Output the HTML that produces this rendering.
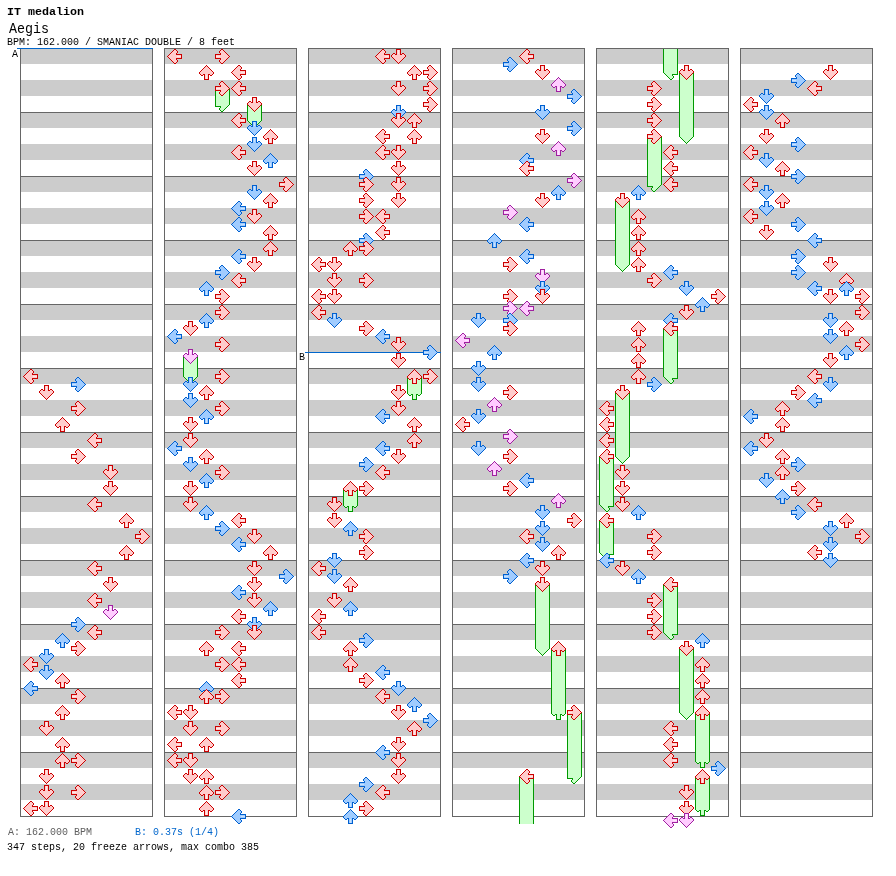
<!DOCTYPE html>
<html><head><meta charset="utf-8"><title>Aegis</title>
<style>
html,body{margin:0;padding:0;background:#fff;}
body{width:896px;height:876px;position:relative;overflow:hidden;font-family:"Liberation Mono",monospace;color:#000;}
.t{position:absolute;white-space:pre;line-height:1;transform-origin:0 0;will-change:transform;}
</style></head><body>
<svg width="896" height="876" viewBox="0 0 896 876" shape-rendering="crispEdges" style="position:absolute;left:0;top:0">
<defs>
<g id="Lr"><polygon points="1.5,8.5 8.5,1.5 9.5,1.5 11.5,3.5 11.5,4.5 10.5,5.5 10.5,6.5 15.5,6.5 15.5,10.5 10.5,10.5 10.5,11.5 11.5,12.5 11.5,13.5 9.5,15.5 8.5,15.5" fill="#ffcccc" stroke="#cc0000" stroke-width="1"/><line x1="11" y1="8.5" x2="15" y2="8.5" stroke="#ffe6e6" stroke-width="1"/></g>
<g id="Lb"><polygon points="1.5,8.5 8.5,1.5 9.5,1.5 11.5,3.5 11.5,4.5 10.5,5.5 10.5,6.5 15.5,6.5 15.5,10.5 10.5,10.5 10.5,11.5 11.5,12.5 11.5,13.5 9.5,15.5 8.5,15.5" fill="#a0ccff" stroke="#0060d0" stroke-width="1"/><line x1="11" y1="8.5" x2="15" y2="8.5" stroke="#c8e2ff" stroke-width="1"/></g>
<g id="Lp"><polygon points="1.5,8.5 8.5,1.5 9.5,1.5 11.5,3.5 11.5,4.5 10.5,5.5 10.5,6.5 15.5,6.5 15.5,10.5 10.5,10.5 10.5,11.5 11.5,12.5 11.5,13.5 9.5,15.5 8.5,15.5" fill="#ffccff" stroke="#a020a0" stroke-width="1"/><line x1="11" y1="8.5" x2="15" y2="8.5" stroke="#ffe6ff" stroke-width="1"/></g>
<g id="Dr"><polygon points="8.5,15.5 1.5,8.5 1.5,7.5 3.5,5.5 4.5,5.5 5.5,6.5 6.5,6.5 6.5,1.5 10.5,1.5 10.5,6.5 11.5,6.5 12.5,5.5 13.5,5.5 15.5,7.5 15.5,8.5" fill="#ffcccc" stroke="#cc0000" stroke-width="1"/><line x1="8.5" y1="6" x2="8.5" y2="2" stroke="#ffe6e6" stroke-width="1"/></g>
<g id="Db"><polygon points="8.5,15.5 1.5,8.5 1.5,7.5 3.5,5.5 4.5,5.5 5.5,6.5 6.5,6.5 6.5,1.5 10.5,1.5 10.5,6.5 11.5,6.5 12.5,5.5 13.5,5.5 15.5,7.5 15.5,8.5" fill="#a0ccff" stroke="#0060d0" stroke-width="1"/><line x1="8.5" y1="6" x2="8.5" y2="2" stroke="#c8e2ff" stroke-width="1"/></g>
<g id="Dp"><polygon points="8.5,15.5 1.5,8.5 1.5,7.5 3.5,5.5 4.5,5.5 5.5,6.5 6.5,6.5 6.5,1.5 10.5,1.5 10.5,6.5 11.5,6.5 12.5,5.5 13.5,5.5 15.5,7.5 15.5,8.5" fill="#ffccff" stroke="#a020a0" stroke-width="1"/><line x1="8.5" y1="6" x2="8.5" y2="2" stroke="#ffe6ff" stroke-width="1"/></g>
<g id="Ur"><polygon points="8.5,1.5 15.5,8.5 15.5,9.5 13.5,11.5 12.5,11.5 11.5,10.5 10.5,10.5 10.5,15.5 6.5,15.5 6.5,10.5 5.5,10.5 4.5,11.5 3.5,11.5 1.5,9.5 1.5,8.5" fill="#ffcccc" stroke="#cc0000" stroke-width="1"/><line x1="8.5" y1="11" x2="8.5" y2="15" stroke="#ffe6e6" stroke-width="1"/></g>
<g id="Ub"><polygon points="8.5,1.5 15.5,8.5 15.5,9.5 13.5,11.5 12.5,11.5 11.5,10.5 10.5,10.5 10.5,15.5 6.5,15.5 6.5,10.5 5.5,10.5 4.5,11.5 3.5,11.5 1.5,9.5 1.5,8.5" fill="#a0ccff" stroke="#0060d0" stroke-width="1"/><line x1="8.5" y1="11" x2="8.5" y2="15" stroke="#c8e2ff" stroke-width="1"/></g>
<g id="Up"><polygon points="8.5,1.5 15.5,8.5 15.5,9.5 13.5,11.5 12.5,11.5 11.5,10.5 10.5,10.5 10.5,15.5 6.5,15.5 6.5,10.5 5.5,10.5 4.5,11.5 3.5,11.5 1.5,9.5 1.5,8.5" fill="#ffccff" stroke="#a020a0" stroke-width="1"/><line x1="8.5" y1="11" x2="8.5" y2="15" stroke="#ffe6ff" stroke-width="1"/></g>
<g id="Rr"><polygon points="15.5,8.5 8.5,1.5 7.5,1.5 5.5,3.5 5.5,4.5 6.5,5.5 6.5,6.5 1.5,6.5 1.5,10.5 6.5,10.5 6.5,11.5 5.5,12.5 5.5,13.5 7.5,15.5 8.5,15.5" fill="#ffcccc" stroke="#cc0000" stroke-width="1"/><line x1="6" y1="8.5" x2="2" y2="8.5" stroke="#ffe6e6" stroke-width="1"/></g>
<g id="Rb"><polygon points="15.5,8.5 8.5,1.5 7.5,1.5 5.5,3.5 5.5,4.5 6.5,5.5 6.5,6.5 1.5,6.5 1.5,10.5 6.5,10.5 6.5,11.5 5.5,12.5 5.5,13.5 7.5,15.5 8.5,15.5" fill="#a0ccff" stroke="#0060d0" stroke-width="1"/><line x1="6" y1="8.5" x2="2" y2="8.5" stroke="#c8e2ff" stroke-width="1"/></g>
<g id="Rp"><polygon points="15.5,8.5 8.5,1.5 7.5,1.5 5.5,3.5 5.5,4.5 6.5,5.5 6.5,6.5 1.5,6.5 1.5,10.5 6.5,10.5 6.5,11.5 5.5,12.5 5.5,13.5 7.5,15.5 8.5,15.5" fill="#ffccff" stroke="#a020a0" stroke-width="1"/><line x1="6" y1="8.5" x2="2" y2="8.5" stroke="#ffe6ff" stroke-width="1"/></g>
</defs>
<rect x="20" y="48" width="132" height="768" fill="#fff"/>
<rect x="21" y="48" width="131" height="16" fill="#cccccc"/>
<rect x="21" y="80" width="131" height="16" fill="#cccccc"/>
<rect x="21" y="112" width="131" height="16" fill="#cccccc"/>
<rect x="21" y="144" width="131" height="16" fill="#cccccc"/>
<rect x="21" y="176" width="131" height="16" fill="#cccccc"/>
<rect x="21" y="208" width="131" height="16" fill="#cccccc"/>
<rect x="21" y="240" width="131" height="16" fill="#cccccc"/>
<rect x="21" y="272" width="131" height="16" fill="#cccccc"/>
<rect x="21" y="304" width="131" height="16" fill="#cccccc"/>
<rect x="21" y="336" width="131" height="16" fill="#cccccc"/>
<rect x="21" y="368" width="131" height="16" fill="#cccccc"/>
<rect x="21" y="400" width="131" height="16" fill="#cccccc"/>
<rect x="21" y="432" width="131" height="16" fill="#cccccc"/>
<rect x="21" y="464" width="131" height="16" fill="#cccccc"/>
<rect x="21" y="496" width="131" height="16" fill="#cccccc"/>
<rect x="21" y="528" width="131" height="16" fill="#cccccc"/>
<rect x="21" y="560" width="131" height="16" fill="#cccccc"/>
<rect x="21" y="592" width="131" height="16" fill="#cccccc"/>
<rect x="21" y="624" width="131" height="16" fill="#cccccc"/>
<rect x="21" y="656" width="131" height="16" fill="#cccccc"/>
<rect x="21" y="688" width="131" height="16" fill="#cccccc"/>
<rect x="21" y="720" width="131" height="16" fill="#cccccc"/>
<rect x="21" y="752" width="131" height="16" fill="#cccccc"/>
<rect x="21" y="784" width="131" height="16" fill="#cccccc"/>
<rect x="20" y="112" width="133" height="1" fill="#666666"/>
<rect x="20" y="176" width="133" height="1" fill="#666666"/>
<rect x="20" y="240" width="133" height="1" fill="#666666"/>
<rect x="20" y="304" width="133" height="1" fill="#666666"/>
<rect x="20" y="368" width="133" height="1" fill="#666666"/>
<rect x="20" y="432" width="133" height="1" fill="#666666"/>
<rect x="20" y="496" width="133" height="1" fill="#666666"/>
<rect x="20" y="560" width="133" height="1" fill="#666666"/>
<rect x="20" y="624" width="133" height="1" fill="#666666"/>
<rect x="20" y="688" width="133" height="1" fill="#666666"/>
<rect x="20" y="752" width="133" height="1" fill="#666666"/>
<rect x="20" y="48" width="133" height="1" fill="#666666"/>
<rect x="20" y="816" width="133" height="1" fill="#666666"/>
<rect x="20" y="48" width="1" height="769" fill="#666666"/>
<rect x="152" y="48" width="1" height="769" fill="#666666"/>
<rect x="164" y="48" width="132" height="768" fill="#fff"/>
<rect x="165" y="48" width="131" height="16" fill="#cccccc"/>
<rect x="165" y="80" width="131" height="16" fill="#cccccc"/>
<rect x="165" y="112" width="131" height="16" fill="#cccccc"/>
<rect x="165" y="144" width="131" height="16" fill="#cccccc"/>
<rect x="165" y="176" width="131" height="16" fill="#cccccc"/>
<rect x="165" y="208" width="131" height="16" fill="#cccccc"/>
<rect x="165" y="240" width="131" height="16" fill="#cccccc"/>
<rect x="165" y="272" width="131" height="16" fill="#cccccc"/>
<rect x="165" y="304" width="131" height="16" fill="#cccccc"/>
<rect x="165" y="336" width="131" height="16" fill="#cccccc"/>
<rect x="165" y="368" width="131" height="16" fill="#cccccc"/>
<rect x="165" y="400" width="131" height="16" fill="#cccccc"/>
<rect x="165" y="432" width="131" height="16" fill="#cccccc"/>
<rect x="165" y="464" width="131" height="16" fill="#cccccc"/>
<rect x="165" y="496" width="131" height="16" fill="#cccccc"/>
<rect x="165" y="528" width="131" height="16" fill="#cccccc"/>
<rect x="165" y="560" width="131" height="16" fill="#cccccc"/>
<rect x="165" y="592" width="131" height="16" fill="#cccccc"/>
<rect x="165" y="624" width="131" height="16" fill="#cccccc"/>
<rect x="165" y="656" width="131" height="16" fill="#cccccc"/>
<rect x="165" y="688" width="131" height="16" fill="#cccccc"/>
<rect x="165" y="720" width="131" height="16" fill="#cccccc"/>
<rect x="165" y="752" width="131" height="16" fill="#cccccc"/>
<rect x="165" y="784" width="131" height="16" fill="#cccccc"/>
<rect x="164" y="112" width="133" height="1" fill="#666666"/>
<rect x="164" y="176" width="133" height="1" fill="#666666"/>
<rect x="164" y="240" width="133" height="1" fill="#666666"/>
<rect x="164" y="304" width="133" height="1" fill="#666666"/>
<rect x="164" y="368" width="133" height="1" fill="#666666"/>
<rect x="164" y="432" width="133" height="1" fill="#666666"/>
<rect x="164" y="496" width="133" height="1" fill="#666666"/>
<rect x="164" y="560" width="133" height="1" fill="#666666"/>
<rect x="164" y="624" width="133" height="1" fill="#666666"/>
<rect x="164" y="688" width="133" height="1" fill="#666666"/>
<rect x="164" y="752" width="133" height="1" fill="#666666"/>
<rect x="164" y="48" width="133" height="1" fill="#666666"/>
<rect x="164" y="816" width="133" height="1" fill="#666666"/>
<rect x="164" y="48" width="1" height="769" fill="#666666"/>
<rect x="296" y="48" width="1" height="769" fill="#666666"/>
<rect x="308" y="48" width="132" height="768" fill="#fff"/>
<rect x="309" y="48" width="131" height="16" fill="#cccccc"/>
<rect x="309" y="80" width="131" height="16" fill="#cccccc"/>
<rect x="309" y="112" width="131" height="16" fill="#cccccc"/>
<rect x="309" y="144" width="131" height="16" fill="#cccccc"/>
<rect x="309" y="176" width="131" height="16" fill="#cccccc"/>
<rect x="309" y="208" width="131" height="16" fill="#cccccc"/>
<rect x="309" y="240" width="131" height="16" fill="#cccccc"/>
<rect x="309" y="272" width="131" height="16" fill="#cccccc"/>
<rect x="309" y="304" width="131" height="16" fill="#cccccc"/>
<rect x="309" y="336" width="131" height="16" fill="#cccccc"/>
<rect x="309" y="368" width="131" height="16" fill="#cccccc"/>
<rect x="309" y="400" width="131" height="16" fill="#cccccc"/>
<rect x="309" y="432" width="131" height="16" fill="#cccccc"/>
<rect x="309" y="464" width="131" height="16" fill="#cccccc"/>
<rect x="309" y="496" width="131" height="16" fill="#cccccc"/>
<rect x="309" y="528" width="131" height="16" fill="#cccccc"/>
<rect x="309" y="560" width="131" height="16" fill="#cccccc"/>
<rect x="309" y="592" width="131" height="16" fill="#cccccc"/>
<rect x="309" y="624" width="131" height="16" fill="#cccccc"/>
<rect x="309" y="656" width="131" height="16" fill="#cccccc"/>
<rect x="309" y="688" width="131" height="16" fill="#cccccc"/>
<rect x="309" y="720" width="131" height="16" fill="#cccccc"/>
<rect x="309" y="752" width="131" height="16" fill="#cccccc"/>
<rect x="309" y="784" width="131" height="16" fill="#cccccc"/>
<rect x="308" y="112" width="133" height="1" fill="#666666"/>
<rect x="308" y="176" width="133" height="1" fill="#666666"/>
<rect x="308" y="240" width="133" height="1" fill="#666666"/>
<rect x="308" y="304" width="133" height="1" fill="#666666"/>
<rect x="308" y="368" width="133" height="1" fill="#666666"/>
<rect x="308" y="432" width="133" height="1" fill="#666666"/>
<rect x="308" y="496" width="133" height="1" fill="#666666"/>
<rect x="308" y="560" width="133" height="1" fill="#666666"/>
<rect x="308" y="624" width="133" height="1" fill="#666666"/>
<rect x="308" y="688" width="133" height="1" fill="#666666"/>
<rect x="308" y="752" width="133" height="1" fill="#666666"/>
<rect x="308" y="48" width="133" height="1" fill="#666666"/>
<rect x="308" y="816" width="133" height="1" fill="#666666"/>
<rect x="308" y="48" width="1" height="769" fill="#666666"/>
<rect x="440" y="48" width="1" height="769" fill="#666666"/>
<rect x="452" y="48" width="132" height="768" fill="#fff"/>
<rect x="453" y="48" width="131" height="16" fill="#cccccc"/>
<rect x="453" y="80" width="131" height="16" fill="#cccccc"/>
<rect x="453" y="112" width="131" height="16" fill="#cccccc"/>
<rect x="453" y="144" width="131" height="16" fill="#cccccc"/>
<rect x="453" y="176" width="131" height="16" fill="#cccccc"/>
<rect x="453" y="208" width="131" height="16" fill="#cccccc"/>
<rect x="453" y="240" width="131" height="16" fill="#cccccc"/>
<rect x="453" y="272" width="131" height="16" fill="#cccccc"/>
<rect x="453" y="304" width="131" height="16" fill="#cccccc"/>
<rect x="453" y="336" width="131" height="16" fill="#cccccc"/>
<rect x="453" y="368" width="131" height="16" fill="#cccccc"/>
<rect x="453" y="400" width="131" height="16" fill="#cccccc"/>
<rect x="453" y="432" width="131" height="16" fill="#cccccc"/>
<rect x="453" y="464" width="131" height="16" fill="#cccccc"/>
<rect x="453" y="496" width="131" height="16" fill="#cccccc"/>
<rect x="453" y="528" width="131" height="16" fill="#cccccc"/>
<rect x="453" y="560" width="131" height="16" fill="#cccccc"/>
<rect x="453" y="592" width="131" height="16" fill="#cccccc"/>
<rect x="453" y="624" width="131" height="16" fill="#cccccc"/>
<rect x="453" y="656" width="131" height="16" fill="#cccccc"/>
<rect x="453" y="688" width="131" height="16" fill="#cccccc"/>
<rect x="453" y="720" width="131" height="16" fill="#cccccc"/>
<rect x="453" y="752" width="131" height="16" fill="#cccccc"/>
<rect x="453" y="784" width="131" height="16" fill="#cccccc"/>
<rect x="452" y="112" width="133" height="1" fill="#666666"/>
<rect x="452" y="176" width="133" height="1" fill="#666666"/>
<rect x="452" y="240" width="133" height="1" fill="#666666"/>
<rect x="452" y="304" width="133" height="1" fill="#666666"/>
<rect x="452" y="368" width="133" height="1" fill="#666666"/>
<rect x="452" y="432" width="133" height="1" fill="#666666"/>
<rect x="452" y="496" width="133" height="1" fill="#666666"/>
<rect x="452" y="560" width="133" height="1" fill="#666666"/>
<rect x="452" y="624" width="133" height="1" fill="#666666"/>
<rect x="452" y="688" width="133" height="1" fill="#666666"/>
<rect x="452" y="752" width="133" height="1" fill="#666666"/>
<rect x="452" y="48" width="133" height="1" fill="#666666"/>
<rect x="452" y="816" width="133" height="1" fill="#666666"/>
<rect x="452" y="48" width="1" height="769" fill="#666666"/>
<rect x="584" y="48" width="1" height="769" fill="#666666"/>
<rect x="596" y="48" width="132" height="768" fill="#fff"/>
<rect x="597" y="48" width="131" height="16" fill="#cccccc"/>
<rect x="597" y="80" width="131" height="16" fill="#cccccc"/>
<rect x="597" y="112" width="131" height="16" fill="#cccccc"/>
<rect x="597" y="144" width="131" height="16" fill="#cccccc"/>
<rect x="597" y="176" width="131" height="16" fill="#cccccc"/>
<rect x="597" y="208" width="131" height="16" fill="#cccccc"/>
<rect x="597" y="240" width="131" height="16" fill="#cccccc"/>
<rect x="597" y="272" width="131" height="16" fill="#cccccc"/>
<rect x="597" y="304" width="131" height="16" fill="#cccccc"/>
<rect x="597" y="336" width="131" height="16" fill="#cccccc"/>
<rect x="597" y="368" width="131" height="16" fill="#cccccc"/>
<rect x="597" y="400" width="131" height="16" fill="#cccccc"/>
<rect x="597" y="432" width="131" height="16" fill="#cccccc"/>
<rect x="597" y="464" width="131" height="16" fill="#cccccc"/>
<rect x="597" y="496" width="131" height="16" fill="#cccccc"/>
<rect x="597" y="528" width="131" height="16" fill="#cccccc"/>
<rect x="597" y="560" width="131" height="16" fill="#cccccc"/>
<rect x="597" y="592" width="131" height="16" fill="#cccccc"/>
<rect x="597" y="624" width="131" height="16" fill="#cccccc"/>
<rect x="597" y="656" width="131" height="16" fill="#cccccc"/>
<rect x="597" y="688" width="131" height="16" fill="#cccccc"/>
<rect x="597" y="720" width="131" height="16" fill="#cccccc"/>
<rect x="597" y="752" width="131" height="16" fill="#cccccc"/>
<rect x="597" y="784" width="131" height="16" fill="#cccccc"/>
<rect x="596" y="112" width="133" height="1" fill="#666666"/>
<rect x="596" y="176" width="133" height="1" fill="#666666"/>
<rect x="596" y="240" width="133" height="1" fill="#666666"/>
<rect x="596" y="304" width="133" height="1" fill="#666666"/>
<rect x="596" y="368" width="133" height="1" fill="#666666"/>
<rect x="596" y="432" width="133" height="1" fill="#666666"/>
<rect x="596" y="496" width="133" height="1" fill="#666666"/>
<rect x="596" y="560" width="133" height="1" fill="#666666"/>
<rect x="596" y="624" width="133" height="1" fill="#666666"/>
<rect x="596" y="688" width="133" height="1" fill="#666666"/>
<rect x="596" y="752" width="133" height="1" fill="#666666"/>
<rect x="596" y="48" width="133" height="1" fill="#666666"/>
<rect x="596" y="816" width="133" height="1" fill="#666666"/>
<rect x="596" y="48" width="1" height="769" fill="#666666"/>
<rect x="728" y="48" width="1" height="769" fill="#666666"/>
<rect x="740" y="48" width="132" height="768" fill="#fff"/>
<rect x="741" y="48" width="131" height="16" fill="#cccccc"/>
<rect x="741" y="80" width="131" height="16" fill="#cccccc"/>
<rect x="741" y="112" width="131" height="16" fill="#cccccc"/>
<rect x="741" y="144" width="131" height="16" fill="#cccccc"/>
<rect x="741" y="176" width="131" height="16" fill="#cccccc"/>
<rect x="741" y="208" width="131" height="16" fill="#cccccc"/>
<rect x="741" y="240" width="131" height="16" fill="#cccccc"/>
<rect x="741" y="272" width="131" height="16" fill="#cccccc"/>
<rect x="741" y="304" width="131" height="16" fill="#cccccc"/>
<rect x="741" y="336" width="131" height="16" fill="#cccccc"/>
<rect x="741" y="368" width="131" height="16" fill="#cccccc"/>
<rect x="741" y="400" width="131" height="16" fill="#cccccc"/>
<rect x="741" y="432" width="131" height="16" fill="#cccccc"/>
<rect x="741" y="464" width="131" height="16" fill="#cccccc"/>
<rect x="741" y="496" width="131" height="16" fill="#cccccc"/>
<rect x="741" y="528" width="131" height="16" fill="#cccccc"/>
<rect x="741" y="560" width="131" height="16" fill="#cccccc"/>
<rect x="741" y="592" width="131" height="16" fill="#cccccc"/>
<rect x="741" y="624" width="131" height="16" fill="#cccccc"/>
<rect x="741" y="656" width="131" height="16" fill="#cccccc"/>
<rect x="741" y="688" width="131" height="16" fill="#cccccc"/>
<rect x="741" y="720" width="131" height="16" fill="#cccccc"/>
<rect x="741" y="752" width="131" height="16" fill="#cccccc"/>
<rect x="741" y="784" width="131" height="16" fill="#cccccc"/>
<rect x="740" y="112" width="133" height="1" fill="#666666"/>
<rect x="740" y="176" width="133" height="1" fill="#666666"/>
<rect x="740" y="240" width="133" height="1" fill="#666666"/>
<rect x="740" y="304" width="133" height="1" fill="#666666"/>
<rect x="740" y="368" width="133" height="1" fill="#666666"/>
<rect x="740" y="432" width="133" height="1" fill="#666666"/>
<rect x="740" y="496" width="133" height="1" fill="#666666"/>
<rect x="740" y="560" width="133" height="1" fill="#666666"/>
<rect x="740" y="624" width="133" height="1" fill="#666666"/>
<rect x="740" y="688" width="133" height="1" fill="#666666"/>
<rect x="740" y="752" width="133" height="1" fill="#666666"/>
<rect x="740" y="48" width="133" height="1" fill="#666666"/>
<rect x="740" y="816" width="133" height="1" fill="#666666"/>
<rect x="740" y="48" width="1" height="769" fill="#666666"/>
<rect x="872" y="48" width="1" height="769" fill="#666666"/>
<rect x="17" y="48" width="136" height="1" fill="#0066cc"/>
<rect x="305" y="352" width="136" height="1" fill="#0066cc"/>
<polygon points="215.5,88.5 229.5,88.5 229.5,104.5 222.5,111.5 221.5,111.5 219.5,109.5 219.5,108.5 220.5,107.5 220.5,106.5 215.5,106.5 215.5,104.5" fill="#ccffcc" stroke="#009900" stroke-width="1"/>
<polygon points="247.5,104.5 261.5,104.5 261.5,120.5 254.5,127.5 247.5,120.5" fill="#ccffcc" stroke="#009900" stroke-width="1"/>
<polygon points="183.5,356.5 197.5,356.5 197.5,376.5 190.5,383.5 183.5,376.5" fill="#ccffcc" stroke="#009900" stroke-width="1"/>
<polygon points="407.5,376.5 421.5,376.5 421.5,392.5 421.5,393.5 419.5,395.5 418.5,395.5 417.5,394.5 416.5,394.5 416.5,399.5 412.5,399.5 412.5,394.5 411.5,394.5 410.5,395.5 409.5,395.5 407.5,393.5 407.5,392.5" fill="#ccffcc" stroke="#009900" stroke-width="1"/>
<polygon points="343.5,488.5 357.5,488.5 357.5,504.5 357.5,505.5 355.5,507.5 354.5,507.5 353.5,506.5 352.5,506.5 352.5,511.5 348.5,511.5 348.5,506.5 347.5,506.5 346.5,507.5 345.5,507.5 343.5,505.5 343.5,504.5" fill="#ccffcc" stroke="#009900" stroke-width="1"/>
<polygon points="535.5,584.5 549.5,584.5 549.5,648.5 542.5,655.5 535.5,648.5" fill="#ccffcc" stroke="#009900" stroke-width="1"/>
<polygon points="551.5,648.5 565.5,648.5 565.5,712.5 565.5,713.5 563.5,715.5 562.5,715.5 561.5,714.5 560.5,714.5 560.5,719.5 556.5,719.5 556.5,714.5 555.5,714.5 554.5,715.5 553.5,715.5 551.5,713.5 551.5,712.5" fill="#ccffcc" stroke="#009900" stroke-width="1"/>
<polygon points="567.5,712.5 581.5,712.5 581.5,776.5 574.5,783.5 573.5,783.5 571.5,781.5 571.5,780.5 572.5,779.5 572.5,778.5 567.5,778.5 567.5,776.5" fill="#ccffcc" stroke="#009900" stroke-width="1"/>
<rect x="519.5" y="776.5" width="14" height="47.5" fill="#ccffcc"/>
<path d="M519.5 776.5V824M533.5 776.5V824" stroke="#009900" stroke-width="1" fill="none"/>
<polygon points="663.5,49 677.5,49 677.5,72.5 677.5,74.5 672.5,74.5 672.5,75.5 673.5,76.5 673.5,77.5 671.5,79.5 670.5,79.5 663.5,72.5" fill="#ccffcc" stroke="none"/>
<polyline points="677.5,49 677.5,72.5 677.5,74.5 672.5,74.5 672.5,75.5 673.5,76.5 673.5,77.5 671.5,79.5 670.5,79.5 663.5,72.5 663.5,49" fill="none" stroke="#009900" stroke-width="1"/>
<polygon points="679.5,72.5 693.5,72.5 693.5,136.5 686.5,143.5 679.5,136.5" fill="#ccffcc" stroke="#009900" stroke-width="1"/>
<polygon points="647.5,136.5 661.5,136.5 661.5,184.5 654.5,191.5 653.5,191.5 651.5,189.5 651.5,188.5 652.5,187.5 652.5,186.5 647.5,186.5 647.5,184.5" fill="#ccffcc" stroke="#009900" stroke-width="1"/>
<polygon points="615.5,200.5 629.5,200.5 629.5,264.5 622.5,271.5 615.5,264.5" fill="#ccffcc" stroke="#009900" stroke-width="1"/>
<polygon points="663.5,328.5 677.5,328.5 677.5,376.5 677.5,378.5 672.5,378.5 672.5,379.5 673.5,380.5 673.5,381.5 671.5,383.5 670.5,383.5 663.5,376.5" fill="#ccffcc" stroke="#009900" stroke-width="1"/>
<polygon points="615.5,392.5 629.5,392.5 629.5,456.5 622.5,463.5 615.5,456.5" fill="#ccffcc" stroke="#009900" stroke-width="1"/>
<polygon points="599.5,456.5 613.5,456.5 613.5,504.5 613.5,506.5 608.5,506.5 608.5,507.5 609.5,508.5 609.5,509.5 607.5,511.5 606.5,511.5 599.5,504.5" fill="#ccffcc" stroke="#009900" stroke-width="1"/>
<polygon points="599.5,520.5 613.5,520.5 613.5,552.5 613.5,554.5 608.5,554.5 608.5,555.5 609.5,556.5 609.5,557.5 607.5,559.5 606.5,559.5 599.5,552.5" fill="#ccffcc" stroke="#009900" stroke-width="1"/>
<polygon points="663.5,584.5 677.5,584.5 677.5,632.5 677.5,634.5 672.5,634.5 672.5,635.5 673.5,636.5 673.5,637.5 671.5,639.5 670.5,639.5 663.5,632.5" fill="#ccffcc" stroke="#009900" stroke-width="1"/>
<polygon points="679.5,648.5 693.5,648.5 693.5,712.5 686.5,719.5 679.5,712.5" fill="#ccffcc" stroke="#009900" stroke-width="1"/>
<polygon points="695.5,712.5 709.5,712.5 709.5,760.5 709.5,761.5 707.5,763.5 706.5,763.5 705.5,762.5 704.5,762.5 704.5,767.5 700.5,767.5 700.5,762.5 699.5,762.5 698.5,763.5 697.5,763.5 695.5,761.5 695.5,760.5" fill="#ccffcc" stroke="#009900" stroke-width="1"/>
<polygon points="695.5,776.5 709.5,776.5 709.5,808.5 709.5,809.5 707.5,811.5 706.5,811.5 705.5,810.5 704.5,810.5 704.5,815.5 700.5,815.5 700.5,810.5 699.5,810.5 698.5,811.5 697.5,811.5 695.5,809.5 695.5,808.5" fill="#ccffcc" stroke="#009900" stroke-width="1"/>
<use href="#Lr" x="22" y="368"/>
<use href="#Rb" x="70" y="376"/>
<use href="#Dr" x="38" y="384"/>
<use href="#Rr" x="70" y="400"/>
<use href="#Ur" x="54" y="416"/>
<use href="#Lr" x="86" y="432"/>
<use href="#Rr" x="70" y="448"/>
<use href="#Dr" x="102" y="464"/>
<use href="#Dr" x="102" y="480"/>
<use href="#Lr" x="86" y="496"/>
<use href="#Ur" x="118" y="512"/>
<use href="#Rr" x="134" y="528"/>
<use href="#Ur" x="118" y="544"/>
<use href="#Lr" x="86" y="560"/>
<use href="#Dr" x="102" y="576"/>
<use href="#Lr" x="86" y="592"/>
<use href="#Dp" x="102" y="604"/>
<use href="#Rb" x="70" y="616"/>
<use href="#Lr" x="86" y="624"/>
<use href="#Ub" x="54" y="632"/>
<use href="#Rr" x="70" y="640"/>
<use href="#Db" x="38" y="648"/>
<use href="#Lr" x="22" y="656"/>
<use href="#Db" x="38" y="664"/>
<use href="#Ur" x="54" y="672"/>
<use href="#Lb" x="22" y="680"/>
<use href="#Rr" x="70" y="688"/>
<use href="#Ur" x="54" y="704"/>
<use href="#Dr" x="38" y="720"/>
<use href="#Ur" x="54" y="736"/>
<use href="#Ur" x="54" y="752"/>
<use href="#Rr" x="70" y="752"/>
<use href="#Dr" x="38" y="768"/>
<use href="#Dr" x="38" y="784"/>
<use href="#Rr" x="70" y="784"/>
<use href="#Lr" x="22" y="800"/>
<use href="#Dr" x="38" y="800"/>
<use href="#Lr" x="166" y="48"/>
<use href="#Rr" x="214" y="48"/>
<use href="#Ur" x="198" y="64"/>
<use href="#Lr" x="230" y="64"/>
<use href="#Rr" x="214" y="80"/>
<use href="#Lr" x="230" y="80"/>
<use href="#Dr" x="246" y="96"/>
<use href="#Lr" x="230" y="112"/>
<use href="#Db" x="246" y="120"/>
<use href="#Ur" x="262" y="128"/>
<use href="#Db" x="246" y="136"/>
<use href="#Lr" x="230" y="144"/>
<use href="#Ub" x="262" y="152"/>
<use href="#Dr" x="246" y="160"/>
<use href="#Rr" x="278" y="176"/>
<use href="#Db" x="246" y="184"/>
<use href="#Ur" x="262" y="192"/>
<use href="#Lb" x="230" y="200"/>
<use href="#Dr" x="246" y="208"/>
<use href="#Lb" x="230" y="216"/>
<use href="#Ur" x="262" y="224"/>
<use href="#Ur" x="262" y="240"/>
<use href="#Lb" x="230" y="248"/>
<use href="#Dr" x="246" y="256"/>
<use href="#Rb" x="214" y="264"/>
<use href="#Lr" x="230" y="272"/>
<use href="#Ub" x="198" y="280"/>
<use href="#Rr" x="214" y="288"/>
<use href="#Rr" x="214" y="304"/>
<use href="#Ub" x="198" y="312"/>
<use href="#Dr" x="182" y="320"/>
<use href="#Lb" x="166" y="328"/>
<use href="#Rr" x="214" y="336"/>
<use href="#Dp" x="182" y="348"/>
<use href="#Rr" x="214" y="368"/>
<use href="#Db" x="182" y="376"/>
<use href="#Ur" x="198" y="384"/>
<use href="#Db" x="182" y="392"/>
<use href="#Rr" x="214" y="400"/>
<use href="#Ub" x="198" y="408"/>
<use href="#Dr" x="182" y="416"/>
<use href="#Dr" x="182" y="432"/>
<use href="#Lb" x="166" y="440"/>
<use href="#Ur" x="198" y="448"/>
<use href="#Db" x="182" y="456"/>
<use href="#Rr" x="214" y="464"/>
<use href="#Ub" x="198" y="472"/>
<use href="#Dr" x="182" y="480"/>
<use href="#Dr" x="182" y="496"/>
<use href="#Ub" x="198" y="504"/>
<use href="#Lr" x="230" y="512"/>
<use href="#Rb" x="214" y="520"/>
<use href="#Dr" x="246" y="528"/>
<use href="#Lb" x="230" y="536"/>
<use href="#Ur" x="262" y="544"/>
<use href="#Dr" x="246" y="560"/>
<use href="#Rb" x="278" y="568"/>
<use href="#Dr" x="246" y="576"/>
<use href="#Lb" x="230" y="584"/>
<use href="#Dr" x="246" y="592"/>
<use href="#Ub" x="262" y="600"/>
<use href="#Lr" x="230" y="608"/>
<use href="#Db" x="246" y="616"/>
<use href="#Dr" x="246" y="624"/>
<use href="#Rr" x="214" y="624"/>
<use href="#Ur" x="198" y="640"/>
<use href="#Lr" x="230" y="640"/>
<use href="#Rr" x="214" y="656"/>
<use href="#Lr" x="230" y="656"/>
<use href="#Lr" x="230" y="672"/>
<use href="#Ub" x="198" y="680"/>
<use href="#Ur" x="198" y="688"/>
<use href="#Rr" x="214" y="688"/>
<use href="#Lr" x="166" y="704"/>
<use href="#Dr" x="182" y="704"/>
<use href="#Dr" x="182" y="720"/>
<use href="#Rr" x="214" y="720"/>
<use href="#Lr" x="166" y="736"/>
<use href="#Ur" x="198" y="736"/>
<use href="#Lr" x="166" y="752"/>
<use href="#Dr" x="182" y="752"/>
<use href="#Dr" x="182" y="768"/>
<use href="#Ur" x="198" y="768"/>
<use href="#Ur" x="198" y="784"/>
<use href="#Rr" x="214" y="784"/>
<use href="#Ur" x="198" y="800"/>
<use href="#Lb" x="230" y="808"/>
<use href="#Lr" x="374" y="48"/>
<use href="#Dr" x="390" y="48"/>
<use href="#Ur" x="406" y="64"/>
<use href="#Rr" x="422" y="64"/>
<use href="#Dr" x="390" y="80"/>
<use href="#Rr" x="422" y="80"/>
<use href="#Rr" x="422" y="96"/>
<use href="#Db" x="390" y="104"/>
<use href="#Dr" x="390" y="112"/>
<use href="#Ur" x="406" y="112"/>
<use href="#Lr" x="374" y="128"/>
<use href="#Ur" x="406" y="128"/>
<use href="#Lr" x="374" y="144"/>
<use href="#Dr" x="390" y="144"/>
<use href="#Dr" x="390" y="160"/>
<use href="#Rb" x="358" y="168"/>
<use href="#Rr" x="358" y="176"/>
<use href="#Dr" x="390" y="176"/>
<use href="#Rr" x="358" y="192"/>
<use href="#Dr" x="390" y="192"/>
<use href="#Rr" x="358" y="208"/>
<use href="#Lr" x="374" y="208"/>
<use href="#Lr" x="374" y="224"/>
<use href="#Rb" x="358" y="232"/>
<use href="#Ur" x="342" y="240"/>
<use href="#Rr" x="358" y="240"/>
<use href="#Lr" x="310" y="256"/>
<use href="#Dr" x="326" y="256"/>
<use href="#Dr" x="326" y="272"/>
<use href="#Rr" x="358" y="272"/>
<use href="#Lr" x="310" y="288"/>
<use href="#Dr" x="326" y="288"/>
<use href="#Lr" x="310" y="304"/>
<use href="#Db" x="326" y="312"/>
<use href="#Rr" x="358" y="320"/>
<use href="#Lb" x="374" y="328"/>
<use href="#Dr" x="390" y="336"/>
<use href="#Rb" x="422" y="344"/>
<use href="#Dr" x="390" y="352"/>
<use href="#Ur" x="406" y="368"/>
<use href="#Rr" x="422" y="368"/>
<use href="#Dr" x="390" y="384"/>
<use href="#Dr" x="390" y="400"/>
<use href="#Lb" x="374" y="408"/>
<use href="#Ur" x="406" y="416"/>
<use href="#Ur" x="406" y="432"/>
<use href="#Lb" x="374" y="440"/>
<use href="#Dr" x="390" y="448"/>
<use href="#Rb" x="358" y="456"/>
<use href="#Lr" x="374" y="464"/>
<use href="#Ur" x="342" y="480"/>
<use href="#Rr" x="358" y="480"/>
<use href="#Dr" x="326" y="496"/>
<use href="#Dr" x="326" y="512"/>
<use href="#Ub" x="342" y="520"/>
<use href="#Rr" x="358" y="528"/>
<use href="#Rr" x="358" y="544"/>
<use href="#Db" x="326" y="552"/>
<use href="#Lr" x="310" y="560"/>
<use href="#Db" x="326" y="568"/>
<use href="#Ur" x="342" y="576"/>
<use href="#Dr" x="326" y="592"/>
<use href="#Ub" x="342" y="600"/>
<use href="#Lr" x="310" y="608"/>
<use href="#Lr" x="310" y="624"/>
<use href="#Rb" x="358" y="632"/>
<use href="#Ur" x="342" y="640"/>
<use href="#Ur" x="342" y="656"/>
<use href="#Lb" x="374" y="664"/>
<use href="#Rr" x="358" y="672"/>
<use href="#Db" x="390" y="680"/>
<use href="#Lr" x="374" y="688"/>
<use href="#Ub" x="406" y="696"/>
<use href="#Dr" x="390" y="704"/>
<use href="#Rb" x="422" y="712"/>
<use href="#Ur" x="406" y="720"/>
<use href="#Dr" x="390" y="736"/>
<use href="#Lb" x="374" y="744"/>
<use href="#Dr" x="390" y="752"/>
<use href="#Dr" x="390" y="768"/>
<use href="#Rb" x="358" y="776"/>
<use href="#Lr" x="374" y="784"/>
<use href="#Ub" x="342" y="792"/>
<use href="#Rr" x="358" y="800"/>
<use href="#Ub" x="342" y="808"/>
<use href="#Lr" x="518" y="48"/>
<use href="#Rb" x="502" y="56"/>
<use href="#Dr" x="534" y="64"/>
<use href="#Up" x="550" y="76"/>
<use href="#Rb" x="566" y="88"/>
<use href="#Db" x="534" y="104"/>
<use href="#Rb" x="566" y="120"/>
<use href="#Dr" x="534" y="128"/>
<use href="#Up" x="550" y="140"/>
<use href="#Lb" x="518" y="152"/>
<use href="#Lr" x="518" y="160"/>
<use href="#Rp" x="566" y="172"/>
<use href="#Ub" x="550" y="184"/>
<use href="#Dr" x="534" y="192"/>
<use href="#Rp" x="502" y="204"/>
<use href="#Lb" x="518" y="216"/>
<use href="#Ub" x="486" y="232"/>
<use href="#Lb" x="518" y="248"/>
<use href="#Rr" x="502" y="256"/>
<use href="#Dp" x="534" y="268"/>
<use href="#Db" x="534" y="280"/>
<use href="#Rr" x="502" y="288"/>
<use href="#Dr" x="534" y="288"/>
<use href="#Rp" x="502" y="300"/>
<use href="#Lp" x="518" y="300"/>
<use href="#Db" x="470" y="312"/>
<use href="#Rb" x="502" y="312"/>
<use href="#Rr" x="502" y="320"/>
<use href="#Lp" x="454" y="332"/>
<use href="#Ub" x="486" y="344"/>
<use href="#Db" x="470" y="360"/>
<use href="#Db" x="470" y="376"/>
<use href="#Rr" x="502" y="384"/>
<use href="#Up" x="486" y="396"/>
<use href="#Db" x="470" y="408"/>
<use href="#Lr" x="454" y="416"/>
<use href="#Rp" x="502" y="428"/>
<use href="#Db" x="470" y="440"/>
<use href="#Rr" x="502" y="448"/>
<use href="#Up" x="486" y="460"/>
<use href="#Lb" x="518" y="472"/>
<use href="#Rr" x="502" y="480"/>
<use href="#Up" x="550" y="492"/>
<use href="#Db" x="534" y="504"/>
<use href="#Rr" x="566" y="512"/>
<use href="#Db" x="534" y="520"/>
<use href="#Lr" x="518" y="528"/>
<use href="#Db" x="534" y="536"/>
<use href="#Ur" x="550" y="544"/>
<use href="#Lb" x="518" y="552"/>
<use href="#Dr" x="534" y="560"/>
<use href="#Rb" x="502" y="568"/>
<use href="#Dr" x="534" y="576"/>
<use href="#Ur" x="550" y="640"/>
<use href="#Rr" x="566" y="704"/>
<use href="#Lr" x="518" y="768"/>
<use href="#Dr" x="678" y="64"/>
<use href="#Rr" x="646" y="80"/>
<use href="#Rr" x="646" y="96"/>
<use href="#Rr" x="646" y="112"/>
<use href="#Rr" x="646" y="128"/>
<use href="#Lr" x="662" y="144"/>
<use href="#Lr" x="662" y="160"/>
<use href="#Lr" x="662" y="176"/>
<use href="#Ub" x="630" y="184"/>
<use href="#Dr" x="614" y="192"/>
<use href="#Ur" x="630" y="208"/>
<use href="#Ur" x="630" y="224"/>
<use href="#Ur" x="630" y="240"/>
<use href="#Ur" x="630" y="256"/>
<use href="#Lb" x="662" y="264"/>
<use href="#Rr" x="646" y="272"/>
<use href="#Db" x="678" y="280"/>
<use href="#Rr" x="710" y="288"/>
<use href="#Ub" x="694" y="296"/>
<use href="#Dr" x="678" y="304"/>
<use href="#Lb" x="662" y="312"/>
<use href="#Lr" x="662" y="320"/>
<use href="#Ur" x="630" y="320"/>
<use href="#Ur" x="630" y="336"/>
<use href="#Ur" x="630" y="352"/>
<use href="#Ur" x="630" y="368"/>
<use href="#Rb" x="646" y="376"/>
<use href="#Dr" x="614" y="384"/>
<use href="#Lr" x="598" y="400"/>
<use href="#Lr" x="598" y="416"/>
<use href="#Lr" x="598" y="432"/>
<use href="#Lr" x="598" y="448"/>
<use href="#Dr" x="614" y="464"/>
<use href="#Dr" x="614" y="480"/>
<use href="#Dr" x="614" y="496"/>
<use href="#Ub" x="630" y="504"/>
<use href="#Lr" x="598" y="512"/>
<use href="#Rr" x="646" y="528"/>
<use href="#Rr" x="646" y="544"/>
<use href="#Lb" x="598" y="552"/>
<use href="#Dr" x="614" y="560"/>
<use href="#Ub" x="630" y="568"/>
<use href="#Lr" x="662" y="576"/>
<use href="#Rr" x="646" y="592"/>
<use href="#Rr" x="646" y="608"/>
<use href="#Rr" x="646" y="624"/>
<use href="#Ub" x="694" y="632"/>
<use href="#Dr" x="678" y="640"/>
<use href="#Ur" x="694" y="656"/>
<use href="#Ur" x="694" y="672"/>
<use href="#Ur" x="694" y="688"/>
<use href="#Ur" x="694" y="704"/>
<use href="#Lr" x="662" y="720"/>
<use href="#Lr" x="662" y="736"/>
<use href="#Lr" x="662" y="752"/>
<use href="#Rb" x="710" y="760"/>
<use href="#Ur" x="694" y="768"/>
<use href="#Dr" x="678" y="784"/>
<use href="#Dr" x="678" y="800"/>
<use href="#Lp" x="662" y="812"/>
<use href="#Dp" x="678" y="812"/>
<use href="#Dr" x="822" y="64"/>
<use href="#Rb" x="790" y="72"/>
<use href="#Lr" x="806" y="80"/>
<use href="#Db" x="758" y="88"/>
<use href="#Lr" x="742" y="96"/>
<use href="#Db" x="758" y="104"/>
<use href="#Ur" x="774" y="112"/>
<use href="#Dr" x="758" y="128"/>
<use href="#Rb" x="790" y="136"/>
<use href="#Lr" x="742" y="144"/>
<use href="#Db" x="758" y="152"/>
<use href="#Ur" x="774" y="160"/>
<use href="#Rb" x="790" y="168"/>
<use href="#Lr" x="742" y="176"/>
<use href="#Db" x="758" y="184"/>
<use href="#Ur" x="774" y="192"/>
<use href="#Db" x="758" y="200"/>
<use href="#Lr" x="742" y="208"/>
<use href="#Rb" x="790" y="216"/>
<use href="#Dr" x="758" y="224"/>
<use href="#Lb" x="806" y="232"/>
<use href="#Rb" x="790" y="248"/>
<use href="#Dr" x="822" y="256"/>
<use href="#Rb" x="790" y="264"/>
<use href="#Ur" x="838" y="272"/>
<use href="#Lb" x="806" y="280"/>
<use href="#Ub" x="838" y="280"/>
<use href="#Dr" x="822" y="288"/>
<use href="#Rr" x="854" y="288"/>
<use href="#Rr" x="854" y="304"/>
<use href="#Db" x="822" y="312"/>
<use href="#Ur" x="838" y="320"/>
<use href="#Db" x="822" y="328"/>
<use href="#Rr" x="854" y="336"/>
<use href="#Ub" x="838" y="344"/>
<use href="#Dr" x="822" y="352"/>
<use href="#Lr" x="806" y="368"/>
<use href="#Db" x="822" y="376"/>
<use href="#Rr" x="790" y="384"/>
<use href="#Lb" x="806" y="392"/>
<use href="#Ur" x="774" y="400"/>
<use href="#Lb" x="742" y="408"/>
<use href="#Ur" x="774" y="416"/>
<use href="#Dr" x="758" y="432"/>
<use href="#Lb" x="742" y="440"/>
<use href="#Ur" x="774" y="448"/>
<use href="#Rb" x="790" y="456"/>
<use href="#Ur" x="774" y="464"/>
<use href="#Db" x="758" y="472"/>
<use href="#Rr" x="790" y="480"/>
<use href="#Ub" x="774" y="488"/>
<use href="#Lr" x="806" y="496"/>
<use href="#Rb" x="790" y="504"/>
<use href="#Ur" x="838" y="512"/>
<use href="#Db" x="822" y="520"/>
<use href="#Rr" x="854" y="528"/>
<use href="#Db" x="822" y="536"/>
<use href="#Lr" x="806" y="544"/>
<use href="#Db" x="822" y="552"/>
</svg>
<div class="t" style="left:7px;top:7px;font-size:11.67px;font-weight:bold">IT medalion</div>
<div class="t" style="left:9px;top:22px;font-size:13.33px;transform:scaleY(1.12)">Aegis</div>
<div class="t" style="left:7px;top:37px;font-size:10px;transform:scaleY(1.12)">BPM: 162.000 / SMANIAC DOUBLE / 8 feet</div>
<div class="t" style="left:12px;top:49px;font-size:10px;transform:scaleY(1.12)">A</div>
<div class="t" style="left:299px;top:352px;font-size:10px;transform:scaleY(1.12)">B</div>
<div class="t" style="left:8px;top:827px;font-size:10px;color:#606060;transform:scaleY(1.12)">A: 162.000 BPM</div>
<div class="t" style="left:135px;top:827px;font-size:10px;color:#0066cc;transform:scaleY(1.12)">B: 0.37s (1/4)</div>
<div class="t" style="left:7px;top:842px;font-size:10px;transform:scaleY(1.12)">347 steps, 20 freeze arrows, max combo 385</div>
</body></html>
